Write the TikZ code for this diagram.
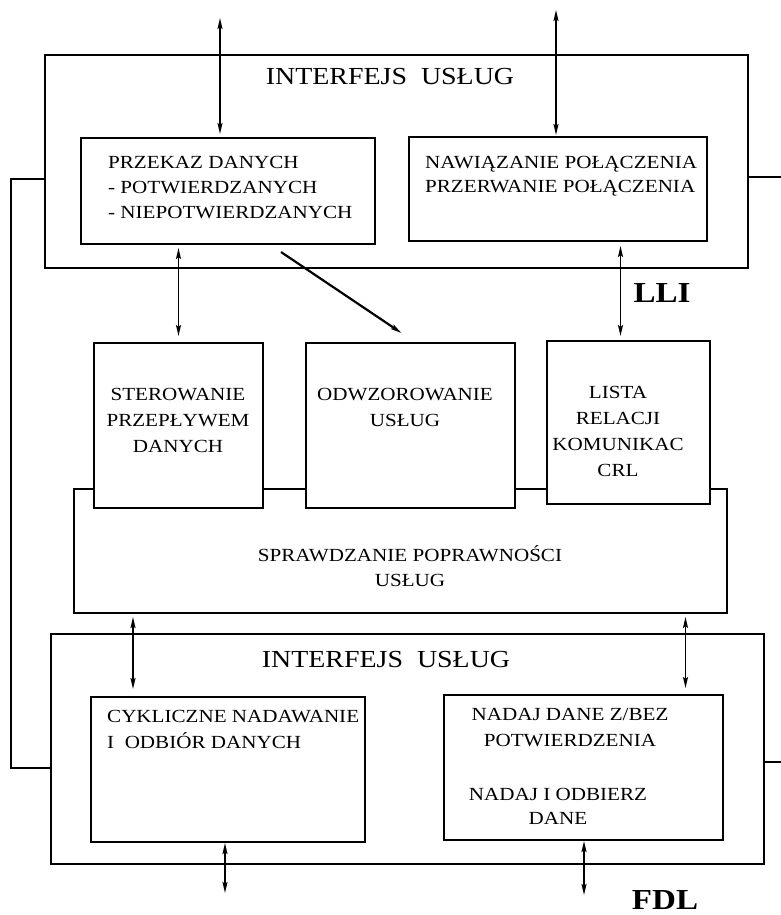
\documentclass[tikz,border=0pt]{standalone}
\usepackage{fontspec}
\setmainfont{Liberation Serif}[FakeStretch=1.14]
\usepackage{tikz}
\usetikzlibrary{arrows.meta,positioning,calc}
\tikzset{
  >={Stealth[length=11pt,width=5pt,inset=2pt]},
  frame/.style={draw, line width=2pt, inner sep=0pt, anchor=north west},
  block/.style={frame, fill=white},
  txt/.style={inner sep=0pt, font=\fontsize{18.5}{26}\selectfont},
  head/.style={inner sep=0pt, font=\fontsize{24.5}{28}\selectfont},
  layer/.style={inner sep=0pt, font=\bfseries\fontsize{29}{32}\selectfont},
  link/.style={<->, line width=1.8pt},
  wire/.style={line width=2pt}
}

\begin{document}
\begin{tikzpicture}[x=1pt,y=-1pt]
  \useasboundingbox (0,0) rectangle (781,915);

  % upper service interface
  \node[frame,minimum width=703pt,minimum height=213pt] (top) at (44,54) {};
  \node[head] (topTitle) at (390,77) {INTERFEJS\ \ USŁUG};
  \node[frame,minimum width=294pt,minimum height=106pt] (A) at (80,137) {};
  \node[txt,anchor=north west,align=left,font=\fontsize{18.5}{25}\selectfont] (aText) at (108,156)
    {PRZEKAZ DANYCH\\- POTWIERDZANYCH\\- NIEPOTWIERDZANYCH};
  \node[frame,minimum width=298pt,minimum height=104pt] (B) at (408,136) {};
  \node[txt,anchor=north west,align=left,font=\fontsize{18.5}{24}\selectfont] (bText) at (425,156)
    {NAWIĄZANIE POŁĄCZENIA\\PRZERWANIE POŁĄCZENIA};

  % middle layer
  \node[frame,minimum width=653pt,minimum height=124pt] (spr) at (73,488) {};
  \node[txt,align=center,anchor=north,font=\fontsize{18.5}{25}\selectfont] (sprText) at (410,545)
    {SPRAWDZANIE POPRAWNOŚCI\\USŁUG};
  \node[block,minimum width=169pt,minimum height=165pt] (ster) at (93,342) {};
  \node[txt,align=center,anchor=north] (sterText) at (178,388) {STEROWANIE\\PRZEPŁYWEM\\DANYCH};
  \node[block,minimum width=209pt,minimum height=165pt] (odw) at (305,342) {};
  \node[txt,align=center,anchor=north] (odwText) at (405,388) {ODWZOROWANIE\\USŁUG};
  \node[block,minimum width=163pt,minimum height=163pt] (lista) at (546,340) {};
  \node[txt,align=center,anchor=north] (listaText) at (618,386) {LISTA\\RELACJI\\KOMUNIKAC\\CRL};
  \node[layer] (lli) at (662,293) {LLI};

  % lower service interface
  \node[frame,minimum width=713pt,minimum height=230pt] (bot) at (50,633) {};
  \node[head] (botTitle) at (386,660) {INTERFEJS\ \ USŁUG};
  \node[frame,minimum width=274pt,minimum height=145pt] (C) at (90,696) {};
  \node[txt,anchor=north west,align=left] (cText) at (107,710)
    {CYKLICZNE NADAWANIE\\I\ \ ODBIÓR DANYCH};
  \node[frame,minimum width=279pt,minimum height=145pt] (D) at (443,694) {};
  \node[txt,align=center,anchor=north] (dText) at (570,708) {NADAJ DANE Z/BEZ\\POTWIERDZENIA};
  \node[txt,align=center,anchor=north,font=\fontsize{18.5}{24}\selectfont] (dText2) at (558,788)
    {NADAJ I ODBIERZ\\DANE};
  \node[layer] (fdl) at (665,900) {FDL};

  % free ends
  \coordinate (topIn1) at (220,18);
  \coordinate (topIn2) at (556,10);
  \coordinate (botOut1) at (225,893);
  \coordinate (botOut2) at (584,895);
  \coordinate (lftTop) at (11,179);
  \coordinate (lftBot) at (11,768);
  \coordinate (rgtTop) at (781,177);
  \coordinate (rgtBot) at (781,762);
  \coordinate (lliX) at ([xshift=-8pt]lista.north);
  \coordinate (cIn) at ([xshift=-95pt]C.north);
  \coordinate (dIn) at ([xshift=102pt]D.north);

  \draw[link,shorten >=3pt] (topIn1) -- (topIn1 |- A.north);
  \draw[link,shorten >=1pt] (topIn2) -- (topIn2 |- B.north);
  \draw[link,shorten <=3pt,shorten >=6pt] (ster.north |- A.south) -- (ster.north);
  \draw[link,shorten <=4pt,shorten >=4pt] (lliX |- B.south) -- (lliX);
  \draw[->,line width=2.2pt] ([xshift=53pt,yshift=-7pt]A.south) -- ([xshift=-9pt,yshift=9pt]odw.north);
  \draw[link,shorten <=3pt,shorten >=7pt] (cIn |- spr.south) -- (cIn);
  \draw[link,shorten <=3pt,shorten >=6pt] (dIn |- spr.south) -- (dIn);
  \draw[link] (C.south -| botOut1) -- (botOut1);
  \draw[link] (D.south -| botOut2) -- (botOut2);

  \draw[wire] (lftTop -| top.west) -- (lftTop) -- (lftBot) -- (lftBot -| bot.west);
  \draw[wire] (rgtTop -| top.east) -- (rgtTop);
  \draw[wire] (rgtBot -| bot.east) -- (rgtBot);
\end{tikzpicture}
\end{document}
